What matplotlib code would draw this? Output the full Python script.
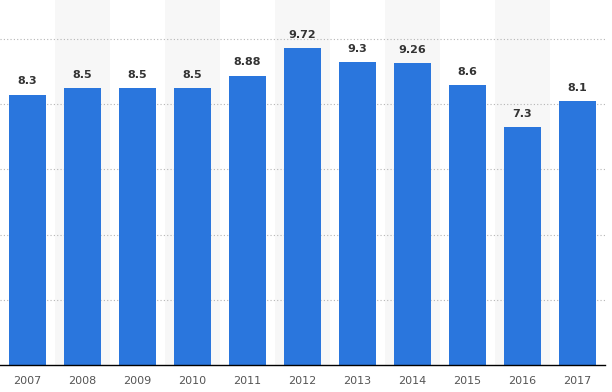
import numpy as np
import matplotlib.pyplot as plt

years = ['2007', '2008', '2009', '2010', '2011', '2012', '2013', '2014', '2015', '2016', '2017']
values = [8.3, 8.5, 8.5, 8.5, 8.88, 9.72, 9.3, 9.26, 8.6, 7.3, 8.1]
value_labels = ['8.3', '8.5', '8.5', '8.5', '8.88', '9.72', '9.3', '9.26', '8.6', '7.3', '8.1']

fig = plt.figure(figsize=(6.12, 3.92), dpi=100)
ax = fig.add_axes([0, 27 / 392, 605 / 612, 365 / 392])

x = np.arange(len(years))

# alternating background bands
for i in x:
    if i % 2 == 1:
        ax.axvspan(i - 0.5, i + 0.5, color='#f7f7f7', zorder=0, lw=0)

ax.bar(x, values, width=0.69, color='#2a76dd', zorder=2)

for i, v in enumerate(values):
    ax.text(i, v + 0.25, value_labels[i], ha='center', va='bottom',
            fontsize=8, fontweight='bold', color='#333333', zorder=3)

ax.set_xlim(-0.5, len(years) - 0.5)
ax.set_ylim(0, 11.2)
ax.set_yticks([2, 4, 6, 8, 10])
ax.yaxis.grid(True, linestyle=(0, (1, 2)), color='#b5b5b5', lw=0.8, zorder=1)
ax.tick_params(axis='y', left=False, labelleft=False)
ax.set_xticks(x)
ax.set_xticklabels(years, fontsize=8, color='#555555')
ax.tick_params(axis='x', length=0, pad=8)

for s in ['top', 'right', 'left']:
    ax.spines[s].set_visible(False)
ax.spines['bottom'].set_color('#000000')
ax.spines['bottom'].set_linewidth(1)

fig.savefig('out.png', dpi=100)
